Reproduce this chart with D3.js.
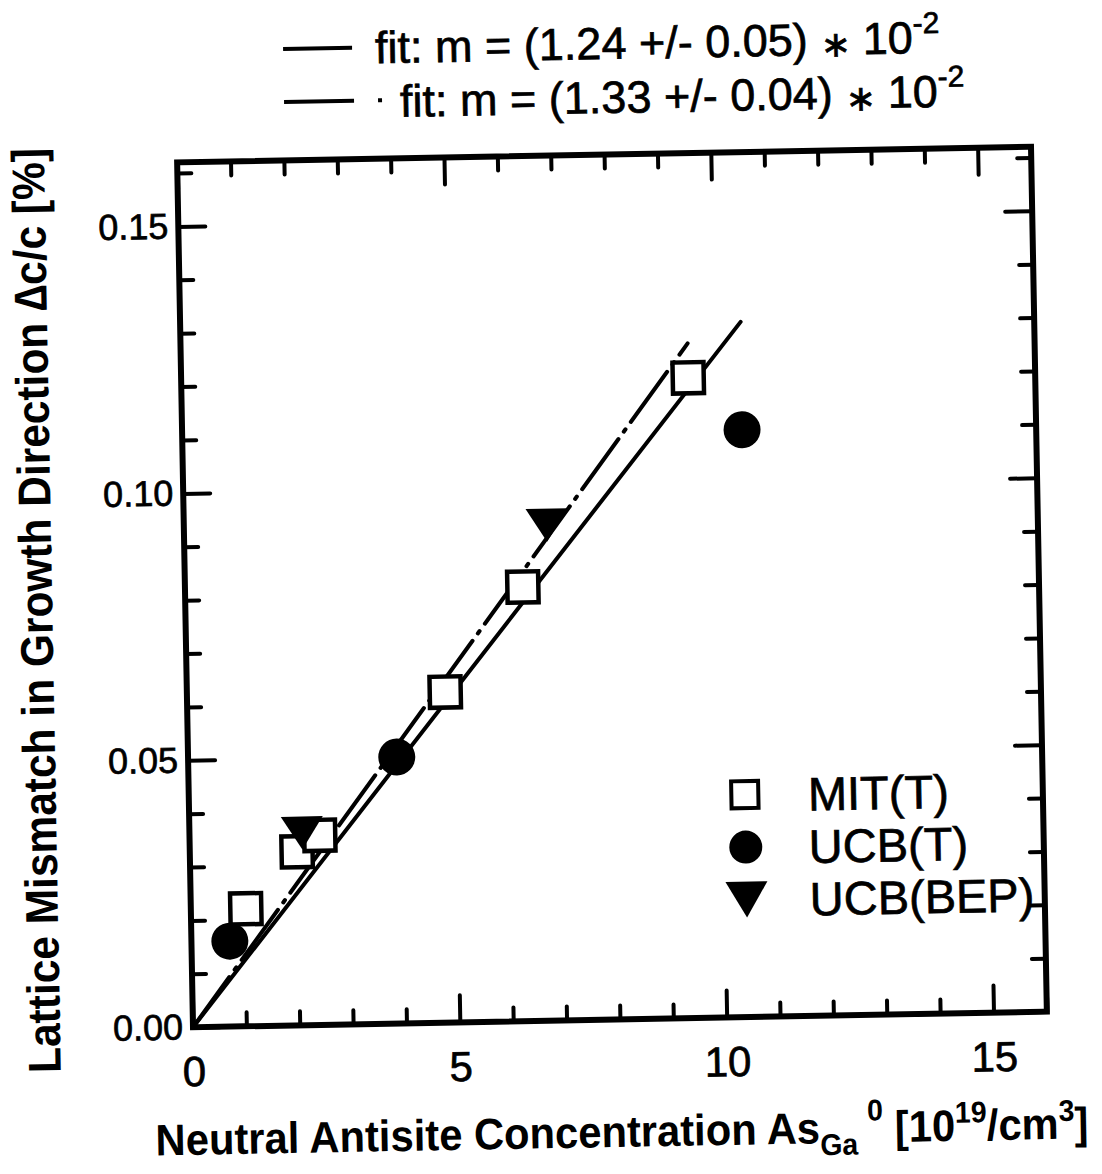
<!DOCTYPE html>
<html>
<head>
<meta charset="utf-8">
<script src="https://cdn.jsdelivr.net/npm/d3@7"></script>
<style>
  body { margin: 0; background: #fff; }
  svg { display: block; }
  text { font-family: "Liberation Sans", Arial, Helvetica, sans-serif; fill: #000; }
  text.reg { stroke: #000; stroke-width: 0.7; }
</style>
</head>
<body>
<svg id="chart" width="1102" height="1174"></svg>
<script>
// Measured samples: antisite concentration (10^19 cm^-3) vs lattice mismatch (%)
const mitX = [1.03, 2.01, 2.44, 4.84, 6.33, 9.50];
const mitY = [0.0220, 0.0325, 0.0355, 0.0619, 0.0813, 0.1199];
const ucbTX = [0.72, 3.91, 10.49];
const ucbTY = [0.0160, 0.0499, 0.1100];
const ucbBepX = [2.11, 6.80];
const ucbBepY = [0.0360, 0.0928];

// Linear fits through the origin (slope in %/(10^19 cm^-3))
const fitSlopes = [0.0124, 0.0133];
const fitXEnd = [10.5, 9.5];
const fitLabels = [
  ["fit: m = (1.24 +/- 0.05) ", "\u2217", " 10"],
  ["fit: m = (1.33 +/- 0.04) ", "\u2217", " 10"]
];
const fitExponent = "-2";

const seriesNames = ["MIT(T)", "UCB(T)", "UCB(BEP)"];

const xDomain = [0, 16];
const yDomain = [0, 0.162];
const xMajorTicks = [0, 5, 10, 15];
const xMinorTicks = [1, 2, 3, 4, 6, 7, 8, 9, 11, 12, 13, 14, 16];
const yMajorTicks = [0, 0.05, 0.10, 0.15];
const yMinorTicks = [0.01, 0.02, 0.03, 0.04, 0.06, 0.07, 0.08, 0.09, 0.11, 0.12, 0.13, 0.14, 0.16];

const L = 185, R = 1039, T = 154.5, B = 1019.5;

const svg = d3.select("#chart");
svg.append("rect").attr("width", 1102).attr("height", 1174).attr("fill", "#fff");

// whole figure sits slightly tilted on the page
const g = svg.append("g").attr("transform", "rotate(-1.05,612,587)");

const x = d3.scaleLinear().domain(xDomain).range([L, R]);
const y = d3.scaleLinear().domain(yDomain).range([B, T]);

const MAJ = 27, MIN = 14;

function styleAxis(sel) {
  sel.select(".domain").remove();
  sel.selectAll(".tick line")
    .attr("stroke", "#000").attr("stroke-width", 4).attr("stroke-linecap", "round");
  sel.selectAll(".tick text").attr("fill", "#000").attr("class", "reg");
}

// bottom
g.append("g").attr("transform", `translate(0,${B})`)
  .call(d3.axisBottom(x).tickValues(xMinorTicks).tickSize(-MIN).tickFormat(""))
  .call(styleAxis);
g.append("g").attr("transform", `translate(0,${B})`)
  .call(d3.axisBottom(x).tickValues(xMajorTicks).tickSize(-MAJ).tickPadding(29).tickFormat(d3.format("d")))
  .call(styleAxis)
  .call(s => s.selectAll(".tick text").attr("font-size", 42).attr("font-family", null));
// top
g.append("g").attr("transform", `translate(0,${T})`)
  .call(d3.axisTop(x).tickValues(xMinorTicks).tickSize(-MIN).tickFormat(""))
  .call(styleAxis);
g.append("g").attr("transform", `translate(0,${T})`)
  .call(d3.axisTop(x).tickValues(xMajorTicks).tickSize(-MAJ).tickFormat(""))
  .call(styleAxis);
// left
g.append("g").attr("transform", `translate(${L},0)`)
  .call(d3.axisLeft(y).tickValues(yMinorTicks).tickSize(-MIN).tickFormat(""))
  .call(styleAxis);
g.append("g").attr("transform", `translate(${L},0)`)
  .call(d3.axisLeft(y).tickValues(yMajorTicks).tickSize(-MAJ).tickPadding(10).tickFormat(d3.format(".2f")))
  .call(styleAxis)
  .call(s => s.selectAll(".tick text").attr("font-size", 36).attr("font-family", null));
// right
g.append("g").attr("transform", `translate(${R},0)`)
  .call(d3.axisRight(y).tickValues(yMinorTicks).tickSize(-MIN).tickFormat(""))
  .call(styleAxis);
g.append("g").attr("transform", `translate(${R},0)`)
  .call(d3.axisRight(y).tickValues(yMajorTicks).tickSize(-MAJ).tickFormat(""))
  .call(styleAxis);

// frame
g.append("rect")
  .attr("x", L).attr("y", T).attr("width", R - L).attr("height", B - T)
  .attr("fill", "none").attr("stroke", "#000").attr("stroke-width", 6);

// fit lines
const fitDash = [null, "62,9,3,9"];
const line = d3.line().x(d => x(d[0])).y(d => y(d[1]));
fitSlopes.forEach((m, i) => {
  g.append("path")
    .datum([[0, 0], [fitXEnd[i], m * fitXEnd[i]]])
    .attr("d", line)
    .attr("fill", "none").attr("stroke", "#000").attr("stroke-width", 4)
    .attr("stroke-linecap", "round")
    .attr("stroke-dasharray", fitDash[i]);
});

// markers
const tri = (w, h) => `M${-w / 2},${-h / 2}L${w / 2},${-h / 2}L0,${h / 2}Z`;

g.append("g").selectAll("rect").data(d3.zip(mitX, mitY)).join("rect")
  .attr("x", d => x(d[0]) - 15.5).attr("y", d => y(d[1]) - 15.5)
  .attr("width", 31).attr("height", 31)
  .attr("fill", "#fff").attr("stroke", "#000").attr("stroke-width", 4.5);

g.append("g").selectAll("circle").data(d3.zip(ucbTX, ucbTY)).join("circle")
  .attr("cx", d => x(d[0])).attr("cy", d => y(d[1])).attr("r", 18.5)
  .attr("fill", "#000");

g.append("g").selectAll("path").data(d3.zip(ucbBepX, ucbBepY)).join("path")
  .attr("transform", d => `translate(${x(d[0])},${y(d[1])})`)
  .attr("d", tri(42, 33))
  .attr("fill", "#000");

// series legend inside the frame
const legX = 741, legY0 = 797, legDy = 52.5;
const leg = g.append("g");
leg.append("rect").attr("x", legX - 13.5).attr("y", legY0 - 13.5).attr("width", 27).attr("height", 27)
  .attr("fill", "#fff").attr("stroke", "#000").attr("stroke-width", 4);
leg.append("circle").attr("cx", legX).attr("cy", legY0 + legDy).attr("r", 16.5).attr("fill", "#000");
leg.append("path").attr("transform", `translate(${legX},${legY0 + 2 * legDy})`).attr("d", tri(42, 36)).attr("fill", "#000");
leg.selectAll("text").data(seriesNames).join("text")
  .attr("class", "reg")
  .attr("x", 804).attr("y", (d, i) => legY0 + i * legDy + 17)
  .attr("font-size", 47)
  .text(d => d);

// fit legend above the frame
const fl = g.append("g");
const flY = [43, 96];
const flText = [59, 113];
fl.append("line").attr("x1", 293).attr("x2", 362).attr("y1", flY[0]).attr("y2", flY[0])
  .attr("stroke", "#000").attr("stroke-width", 4);
fl.append("line").attr("x1", 293).attr("x2", 394).attr("y1", flY[1]).attr("y2", flY[1])
  .attr("stroke", "#000").attr("stroke-width", 4).attr("stroke-dasharray", "70,24,4,24");
[385, 409].forEach((tx, i) => {
  const t = fl.append("text").attr("class", "reg")
    .attr("x", tx).attr("y", flText[i]).attr("font-size", 45);
  t.append("tspan").text(fitLabels[i][0]);
  t.append("tspan").attr("font-size", 36).attr("dy", 2).text(fitLabels[i][1]);
  t.append("tspan").attr("dy", -2).text(fitLabels[i][2]);
  t.append("tspan").attr("font-size", 30).attr("dy", -20).text(fitExponent);
});

// axis titles
const xt = g.append("text")
  .attr("x", 612).attr("y", 1147).attr("text-anchor", "middle")
  .attr("font-size", 44).attr("font-weight", "bold")
  .attr("textLength", 933).attr("lengthAdjust", "spacingAndGlyphs");
xt.append("tspan").text("Neutral Antisite Concentration As");
xt.append("tspan").attr("font-size", 30).attr("dy", 12).text("Ga");
xt.append("tspan").attr("font-size", 30).attr("dy", -34).attr("dx", 10).text("0");
xt.append("tspan").attr("dy", 22).text(" [10");
xt.append("tspan").attr("font-size", 30).attr("dy", -18).text("19");
xt.append("tspan").attr("dy", 18).text("/cm");
xt.append("tspan").attr("font-size", 30).attr("dy", -18).text("3");
xt.append("tspan").attr("dy", 18).text("]");

g.append("text")
  .attr("transform", "translate(52,600) rotate(-90)")
  .attr("text-anchor", "middle")
  .attr("font-size", 46).attr("font-weight", "bold")
  .attr("textLength", 925).attr("lengthAdjust", "spacingAndGlyphs")
  .text("Lattice Mismatch in Growth Direction \u2206c/c [%]");
</script>
</body>
</html>
